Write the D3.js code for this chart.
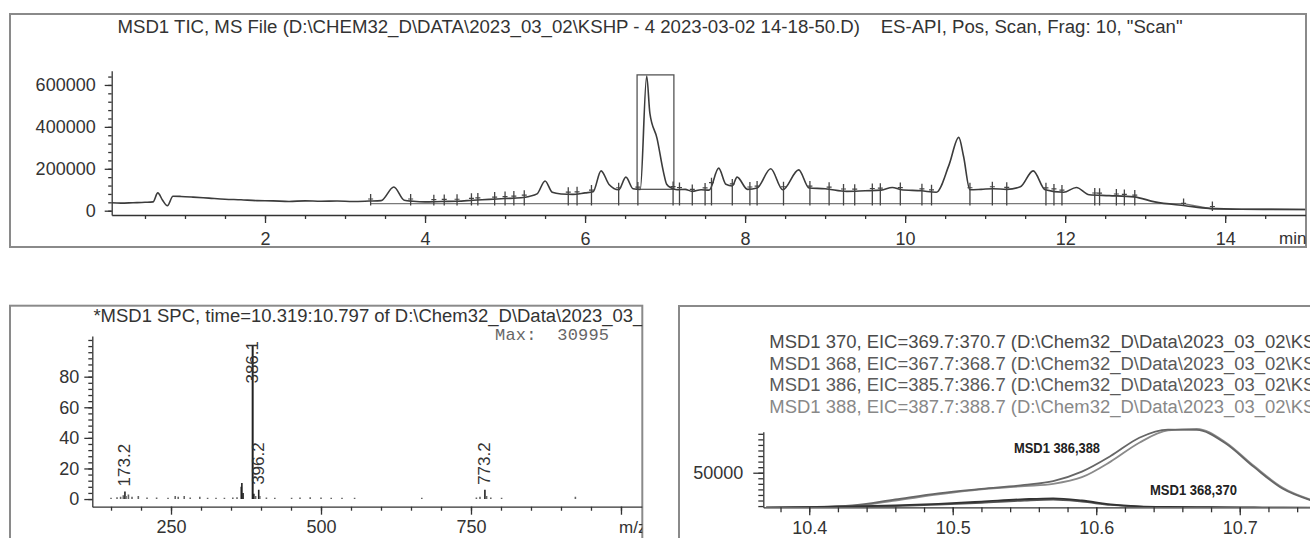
<!DOCTYPE html>
<html>
<head>
<meta charset="utf-8">
<script src="https://cdn.jsdelivr.net/npm/d3@7"></script>
<style>
body { margin: 0; background: #fff; }
svg text { font-family: "Liberation Sans", Arial, sans-serif; fill: #333; }
.axis path, .axis line { stroke: #333; stroke-width: 1.3; }
.axis text { font-size: 18px; fill: #333; }
</style>
</head>
<body>
<svg id="chart" width="1310" height="538"></svg>
<script>
// ---- TIC (top panel) ----
var ticTime  = [0.08, 0.2, 0.35, 0.5, 0.6, 0.66, 0.72, 0.78, 0.85, 0.95, 1.1, 1.3, 1.5, 1.7, 1.9, 2.1, 2.3, 2.5, 2.7, 2.9, 3.1, 3.3, 3.45, 3.61, 3.74, 3.85, 4.0, 4.2, 4.4, 4.6, 4.8, 5.0, 5.2, 5.3, 5.4, 5.5, 5.59, 5.7, 5.85, 6.0, 6.1, 6.2, 6.3, 6.42, 6.51, 6.6, 6.69, 6.77, 6.81, 6.9, 6.98, 7.02, 7.08, 7.15, 7.25, 7.34, 7.45, 7.55, 7.67, 7.76, 7.84, 7.9, 8.03, 8.15, 8.32, 8.47, 8.67, 8.8, 9.0, 9.27, 9.5, 9.7, 9.84, 9.95, 10.2, 10.39, 10.55, 10.67, 10.73, 10.81, 10.95, 11.1, 11.27, 11.44, 11.6, 11.75, 11.98, 12.14, 12.3, 12.55, 12.86, 13.12, 13.5, 13.8, 14.2, 15.0];
var ticAbund = [38000, 36000, 38000, 40000, 42000, 85000, 50000, 24000, 69000, 68000, 65000, 60000, 55000, 52000, 48000, 47000, 44000, 47000, 45000, 46000, 44000, 46000, 48000, 113000, 50000, 45000, 42000, 44000, 45000, 50000, 54000, 58000, 62000, 68000, 80000, 142000, 88000, 80000, 78000, 85000, 90000, 190000, 125000, 100000, 160000, 105000, 102000, 643000, 465000, 344000, 184000, 126000, 108000, 100000, 102000, 92000, 100000, 98000, 203000, 126000, 118000, 160000, 102000, 108000, 200000, 100000, 195000, 108000, 105000, 92000, 95000, 98000, 111000, 100000, 95000, 88000, 220000, 350000, 260000, 100000, 102000, 105000, 102000, 114000, 190000, 100000, 88000, 111000, 76000, 72000, 66000, 42000, 24000, 11000, 7000, 6000];
var ticMarks = [3.32, 3.82, 4.11, 4.24, 4.40, 4.58, 4.66, 4.87, 5.00, 5.11, 5.24, 5.79, 5.90, 6.08, 6.42, 6.66, 7.10, 7.18, 7.34, 7.50, 7.58, 7.84, 8.06, 8.15, 8.48, 8.81, 9.05, 9.23, 9.37, 9.59, 9.69, 9.94, 10.21, 10.33, 10.81, 11.09, 11.27, 11.76, 11.86, 11.96, 12.37, 12.43, 12.64, 12.74, 12.87, 13.48, 13.84];
var ticBaseTime  = [3.32, 13.48, 13.84, 15.0];
var ticBaseAbund = [34000, 34000, 8000, 6000];
var ticBoxTime  = [6.65, 7.11];
var ticBoxAbund = [102000, 648000];
var ticXTicks = [2, 4, 6, 8, 10, 12, 14];
var ticYTicks = [0, 200000, 400000, 600000];
var ticTitle = 'MSD1 TIC, MS File (D:\\CHEM32_D\\DATA\\2023_03_02\\KSHP - 4 2023-03-02 14-18-50.D)    ES-API, Pos, Scan, Frag: 10, "Scan"';

// ---- spectrum (bottom left) ----
var specMz = [150, 160, 166, 170.5, 173.2, 175, 179, 185, 195.5, 210, 226, 245, 257, 262, 272, 282, 298, 311, 325, 339, 353, 360, 367.1, 368.1, 370.1, 386.1, 388.1, 391, 396.2, 398, 409, 423, 451, 465, 482, 500, 517, 535, 556, 668, 759, 765, 773.2, 776, 783, 801, 924];
var specAbund = [0.8, 1.2, 1.5, 2.5, 5, 2, 3, 1.5, 2, 1, 1, 0.8, 2, 1.5, 2, 1, 1.5, 0.8, 0.8, 0.8, 1, 1.2, 8, 10.5, 4, 100, 3.5, 2, 6, 2, 1, 0.8, 0.8, 1, 1.2, 1, 0.8, 0.8, 0.8, 0.8, 1, 1.5, 6, 2, 1, 0.8, 1.5];
var specLabels = [173.2, 386.1, 396.2, 773.2];
var specXTicks = [250, 500, 750, 1000];
var specYTicks = [0, 20, 40, 60, 80];
var specTitle = '*MSD1 SPC, time=10.319:10.797 of D:\\Chem32_D\\Data\\2023_03_';
var specMax = 'Max:  30995';

// ---- EIC (bottom right) ----
var eicTime = [10.37, 10.40, 10.43, 10.46, 10.49, 10.52, 10.55, 10.57, 10.59, 10.61, 10.63, 10.65, 10.67, 10.69, 10.71, 10.73, 10.75];
var eic370 = [18500, 19000, 19600, 20600, 22000, 24000, 26200, 27000, 25000, 21500, 19800, 19200, 19000, 18900, 18700, 18600, 18500];
var eic368 = [18500, 18800, 19300, 20000, 21300, 23000, 25000, 25800, 24000, 21000, 19500, 19000, 18800, 18700, 18600, 18500, 18400];
var eic386 = [18500, 19000, 20500, 26000, 31500, 35500, 39000, 42500, 51000, 65000, 81500, 88800, 88500, 76500, 55000, 35500, 25000];
var eic388 = [18500, 19000, 20000, 25000, 30500, 35000, 38000, 40000, 46000, 60000, 77000, 88000, 89500, 77500, 56000, 36500, 25500];
var eicLegend = [
  'MSD1 370, EIC=369.7:370.7 (D:\\Chem32_D\\Data\\2023_03_02\\KS',
  'MSD1 368, EIC=367.7:368.7 (D:\\Chem32_D\\Data\\2023_03_02\\KS',
  'MSD1 386, EIC=385.7:386.7 (D:\\Chem32_D\\Data\\2023_03_02\\KS',
  'MSD1 388, EIC=387.7:388.7 (D:\\Chem32_D\\Data\\2023_03_02\\KS'
];
var eicXTicks = [10.4, 10.5, 10.6, 10.7];
var eicYTicks = [50000];

var svg = d3.select('#chart');
var defs = svg.append('defs');
function clip(id, x, y, w, h) {
  defs.append('clipPath').attr('id', id).append('rect')
    .attr('x', x).attr('y', y).attr('width', w).attr('height', h);
  return 'url(#' + id + ')';
}
function frame(x, y, w, h) {
  svg.append('rect').attr('x', x).attr('y', y).attr('width', w).attr('height', h)
    .attr('fill', 'none').attr('stroke', '#8a8a8a').attr('stroke-width', 2);
}
// major + minor ticks, minor ones without labels
function axisPair(g, major, minor) {
  g.attr('class', 'axis').call(major);
  g.append('g').call(minor).select('.domain').remove();
  g.selectAll('text').attr('font-family', '"Liberation Sans", Arial, sans-serif');
}

// ================= top panel =================
frame(10, 14, 1296, 233);
var clipTop = clip('cTop', 10, 14, 1296, 233);
var xT = d3.scaleLinear().domain([0.084, 15.01]).range([111.7, 1306]);
var yT = d3.scaleLinear().domain([-20500, 668000]).range([215, 70.7]);

svg.append('text').attr('x', 117.5).attr('y', 33).attr('font-size', 18)
  .attr('textLength', 1065).attr('lengthAdjust', 'spacingAndGlyphs')
  .style('white-space', 'pre').attr('xml:space', 'preserve').text(ticTitle);

axisPair(svg.append('g').attr('transform', 'translate(111.7,0)'),
  d3.axisLeft(yT).tickValues(ticYTicks).tickSize(7).tickPadding(9).tickSizeOuter(0).tickFormat(d3.format('d')),
  d3.axisLeft(yT).tickValues(d3.range(0, 660000, 40000)).tickSize(3.5).tickFormat(''));

axisPair(svg.append('g').attr('clip-path', clipTop).append('g').attr('transform', 'translate(0,215)'),
  d3.axisBottom(xT).tickValues(ticXTicks).tickSize(8).tickPadding(9).tickSizeOuter(0),
  d3.axisBottom(xT).tickValues(d3.range(1, 30).map(function(i) { return i / 2; })).tickSize(4).tickFormat(''));
svg.append('text').attr('x', 1279).attr('y', 244).attr('font-size', 17)
  .attr('clip-path', clipTop).text('min');

var plotTop = svg.append('g').attr('clip-path', clip('cTopPlot', 111.7, 60, 1194.3, 156));
var ticPts = d3.zip(ticTime, ticAbund);
var ticAt = d3.scaleLinear().domain(ticTime).range(ticAbund);
var baseAt = d3.scaleLinear().domain(ticBaseTime).range(ticBaseAbund).clamp(true);

plotTop.append('path').datum(d3.zip(ticBaseTime, ticBaseAbund))
  .attr('fill', 'none').attr('stroke', '#7a7a7a').attr('stroke-width', 1.4)
  .attr('d', d3.line().x(function(d) { return xT(d[0]); }).y(function(d) { return yT(d[1]); }));

plotTop.append('rect')
  .attr('x', xT(ticBoxTime[0])).attr('y', yT(ticBoxAbund[1]))
  .attr('width', xT(ticBoxTime[1]) - xT(ticBoxTime[0]))
  .attr('height', yT(ticBoxAbund[0]) - yT(ticBoxAbund[1]))
  .attr('fill', 'none').attr('stroke', '#555').attr('stroke-width', 1.3);

plotTop.append('path').datum(ticPts)
  .attr('fill', 'none').attr('stroke', '#3c3c3c').attr('stroke-width', 1.6)
  .attr('stroke-linejoin', 'round')
  .attr('d', d3.line().curve(d3.curveMonotoneX)
    .x(function(d) { return xT(d[0]); }).y(function(d) { return yT(d[1]); }));

var marks = plotTop.selectAll('g.mark').data(ticMarks).enter().append('g').attr('class', 'mark');
marks.append('line')
  .attr('x1', function(t) { return xT(t); }).attr('x2', function(t) { return xT(t); })
  .attr('y1', function(t) { return yT(ticAt(t)) - 7; })
  .attr('y2', function(t) { return yT(baseAt(t)) + 2; })
  .attr('stroke', '#444').attr('stroke-width', 1.3);
marks.append('line')
  .attr('x1', function(t) { return xT(t) - 2.5; }).attr('x2', function(t) { return xT(t) + 2.5; })
  .attr('y1', function(t) { return yT(ticAt(t)) - 2; })
  .attr('y2', function(t) { return yT(ticAt(t)) - 2; })
  .attr('stroke', '#444').attr('stroke-width', 1.2);

// ================= bottom left: spectrum =================
frame(10, 305.7, 632.3, 250);
var clipL = clip('cLeft', 10, 305.7, 632.3, 250);
var xS = d3.scaleLinear().domain([118.8, 1036.7]).range([92.3, 643]);
var yS = d3.scaleLinear().domain([-5, 106.6]).range([506.7, 336]);

svg.append('text').attr('x', 93.4).attr('y', 321.7).attr('font-size', 18)
  .attr('textLength', 550).attr('lengthAdjust', 'spacingAndGlyphs')
  .attr('clip-path', clipL).text(specTitle);
svg.append('text').attr('x', 495).attr('y', 340).attr('font-size', 17)
  .style('font-family', '"Liberation Mono", "DejaVu Sans Mono", monospace')
  .style('fill', '#666').attr('textLength', 114).style('white-space', 'pre')
  .attr('xml:space', 'preserve').text(specMax);

axisPair(svg.append('g').attr('transform', 'translate(92.3,0)'),
  d3.axisLeft(yS).tickValues(specYTicks).tickSize(8).tickPadding(5).tickSizeOuter(0),
  d3.axisLeft(yS).tickValues(d3.range(0, 106, 4)).tickSize(4).tickFormat(''));
axisPair(svg.append('g').attr('clip-path', clipL).append('g').attr('transform', 'translate(0,506.7)'),
  d3.axisBottom(xS).tickValues(specXTicks).tickSize(8).tickPadding(6).tickSizeOuter(0)
    .tickFormat(function(d) { return d === 1000 ? '' : d; }),
  d3.axisBottom(xS).tickValues(d3.range(150, 1001, 50)).tickSize(4).tickFormat(''));
svg.append('text').attr('x', 619).attr('y', 533).attr('font-size', 17)
  .attr('clip-path', clipL).text('m/z');

function abundOf(mz) { return specAbund[specMz.indexOf(mz)]; }
var gSpec = svg.append('g').attr('clip-path', clipL);
gSpec.selectAll('line.peak').data(d3.zip(specMz, specAbund)).enter().append('line')
  .attr('class', 'peak')
  .attr('x1', function(d) { return xS(d[0]); }).attr('x2', function(d) { return xS(d[0]); })
  .attr('y1', yS(0)).attr('y2', function(d) { return yS(d[1]); })
  .attr('stroke', function(d) { return d[1] > 3 ? '#222' : '#666'; })
  .attr('stroke-width', function(d) { return d[1] > 50 ? 2 : 1.6; });

gSpec.selectAll('text.lbl').data(specLabels).enter().append('text')
  .attr('class', 'lbl').attr('font-size', 17).attr('dominant-baseline', 'central')
  .attr('text-anchor', function(mz) { return abundOf(mz) > 60 ? 'end' : 'start'; })
  .attr('transform', function(mz) {
    var y = abundOf(mz) > 60 ? yS(106.6) + 5 : yS(abundOf(mz)) - 5;
    return 'translate(' + xS(mz) + ',' + y + ') rotate(-90)';
  })
  .text(function(mz) { return mz.toFixed(1); });

// ================= bottom right: EIC =================
frame(679, 306, 640, 250);
var clipR = clip('cRight', 679, 306, 640, 250);
var xE = d3.scaleLinear().domain([10.368, 10.75]).range([763.3, 1311.5]);
var yE = d3.scaleLinear().domain([18900, 86900]).range([507.3, 431.7]);

var legendColors = ['#4a4a4a', '#5a5a5a', '#5a5a5a', '#888'];
svg.append('g').attr('clip-path', clipR).selectAll('text').data(eicLegend).enter().append('text')
  .attr('x', 769.3).attr('y', function(d, i) { return 347.7 + i * 21.8; })
  .attr('font-size', 18).attr('textLength', 546).attr('lengthAdjust', 'spacingAndGlyphs')
  .style('fill', function(d, i) { return legendColors[i]; })
  .text(function(d) { return d; });

axisPair(svg.append('g').attr('transform', 'translate(763.3,0)'),
  d3.axisLeft(yE).tickValues(eicYTicks).tickSize(10).tickPadding(10).tickSizeOuter(0).tickFormat(d3.format('d')),
  d3.axisLeft(yE).tickValues(d3.range(20000, 86000, 5000)).tickSize(5).tickFormat(''));
axisPair(svg.append('g').attr('clip-path', clipR).append('g').attr('transform', 'translate(0,507.3)'),
  d3.axisBottom(xE).tickValues(eicXTicks).tickSize(8).tickPadding(6).tickSizeOuter(0).tickFormat(d3.format('.1f')),
  d3.axisBottom(xE).tickValues(d3.range(519, 538).map(function(i) { return i / 50; })).tickSize(5).tickFormat(''));

var gEic = svg.append('g').attr('clip-path', clip('cEicPlot', 764, 415, 560, 92));
var eicLine = d3.line().curve(d3.curveMonotoneX)
  .x(function(d) { return xE(d[0]); }).y(function(d) { return yE(d[1]); });
[[eic388, '#8a8a8a'], [eic386, '#666'], [eic368, '#555'], [eic370, '#333']].forEach(function(s) {
  gEic.append('path').datum(d3.zip(eicTime, s[0]))
    .attr('fill', 'none').attr('stroke', s[1]).attr('stroke-width', 1.8)
    .attr('d', eicLine);
});

svg.append('text').attr('x', 1014).attr('y', 452.7).attr('font-size', 15).attr('font-weight', 'bold')
  .attr('textLength', 86).attr('lengthAdjust', 'spacingAndGlyphs').style('fill', '#222').text('MSD1 386,388');
svg.append('text').attr('x', 1150).attr('y', 495).attr('font-size', 15).attr('font-weight', 'bold')
  .attr('textLength', 87).attr('lengthAdjust', 'spacingAndGlyphs').style('fill', '#222').text('MSD1 368,370');
</script>
</body>
</html>
